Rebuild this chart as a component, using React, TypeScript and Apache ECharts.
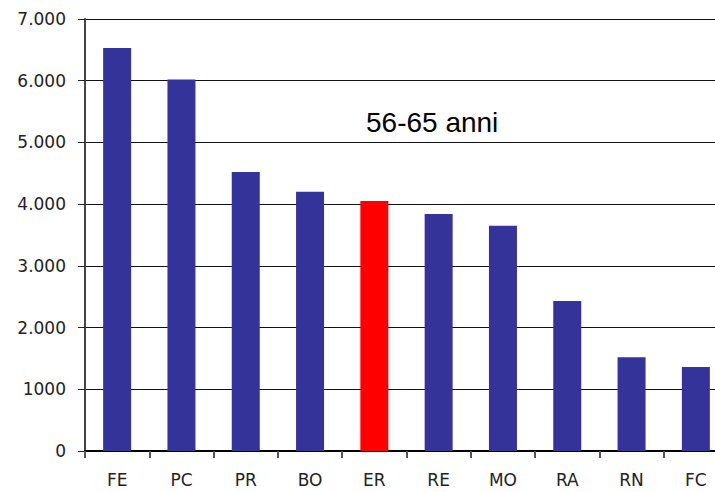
import React, { useEffect, useRef } from "react";
import * as echarts from "echarts";

const categories = ["FE", "PC", "PR", "BO", "ER", "RE", "MO", "RA", "RN", "FC"];
const values = [6530, 6020, 4520, 4200, 4050, 3840, 3650, 2430, 1520, 1360];
const highlight = "ER";
const yTickLabels: Record<number, string> = {
  0: "0",
  1000: "1000",
  2000: "2.000",
  3000: "3.000",
  4000: "4.000",
  5000: "5.000",
  6000: "6.000",
  7000: "7.000",
};
const chartTitle = "56-65 anni";

export default function App() {
  const ref = useRef<HTMLDivElement>(null);
  useEffect(() => {
    if (!ref.current) return;
    const chart = echarts.init(ref.current, null, { renderer: "svg" });
    chart.setOption({
      animation: false,
      backgroundColor: "#ffffff",
      grid: { left: 85, top: 19, bottom: 41, right: 0, containLabel: false },
      graphic: [
        {
          type: "text",
          left: 366,
          top: 108,
          style: {
            text: chartTitle,
            font: "28px 'Liberation Sans', Arial, sans-serif",
            fill: "#000",
          },
        },
      ],
      xAxis: {
        type: "category",
        data: categories,
        axisLine: { lineStyle: { color: "#000", width: 2 } },
        axisTick: { show: true, length: 7, lineStyle: { color: "#555", width: 2 } },
        axisLabel: {
          margin: 20,
          fontSize: 17,
          fontFamily: "DejaVu Sans",
          color: "#222",
        },
      },
      yAxis: {
        type: "value",
        min: 0,
        max: 7000,
        interval: 1000,
        axisLine: { show: true, lineStyle: { color: "#444", width: 2 } },
        axisTick: { show: true, length: 7, lineStyle: { color: "#222", width: 1 } },
        axisLabel: {
          margin: 19,
          fontSize: 17,
          fontFamily: "DejaVu Sans",
          color: "#222",
          formatter: (v: number) => yTickLabels[v] ?? String(v),
        },
        splitLine: { show: true, lineStyle: { color: "#111", width: 1 } },
      },
      series: [
        {
          type: "bar",
          barWidth: 28,
          data: values.map((v, i) => ({
            value: v,
            itemStyle: { color: categories[i] === highlight ? "#ff0000" : "#333399" },
          })),
        },
      ],
    });
    return () => chart.dispose();
  }, []);
  return (
    <div style={{ position: "absolute", left: 0, top: 0, width: 715, height: 492, overflow: "hidden", background: "#fff" }}>
      <div ref={ref} style={{ width: 728, height: 492 }} />
    </div>
  );
}
